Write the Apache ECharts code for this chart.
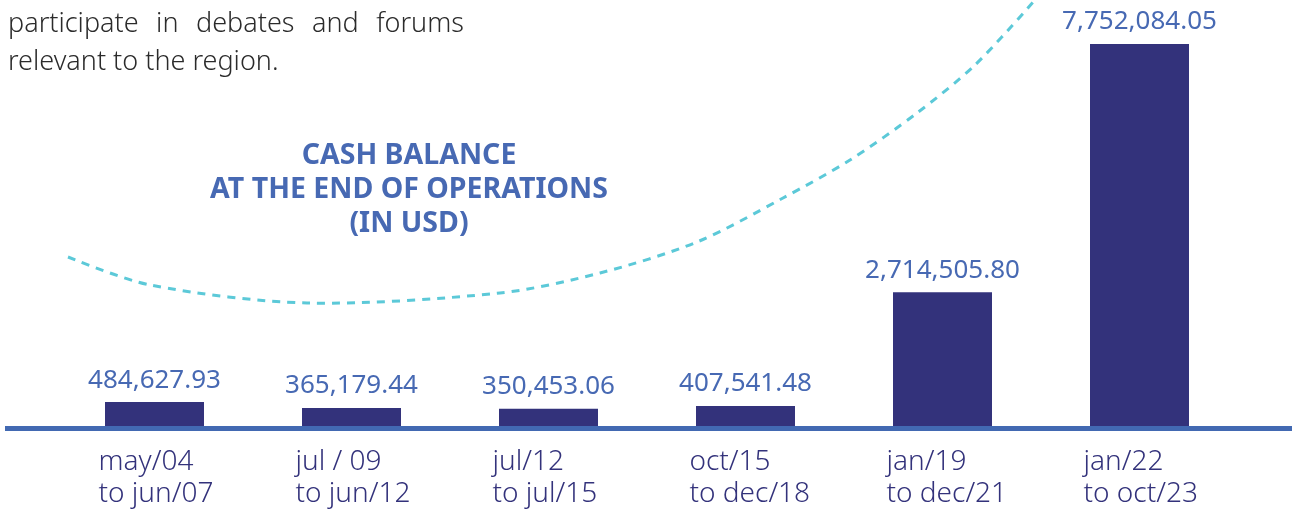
<!DOCTYPE html>
<html>
<head>
<meta charset="utf-8">
<title>Cash balance</title>
<script src="https://cdn.jsdelivr.net/npm/echarts@6/dist/echarts.min.js"></script>
<style>
  html, body { margin: 0; padding: 0; background: #ffffff; }
  #grafica { width: 1292px; height: 512px; }
</style>
</head>
<body>
<div id="grafica"></div>
<script>
// periodos (dos lineas por etiqueta)
const periods = [
  "may/04\nto jun/07",
  "jul / 09\nto jun/12",
  "jul/12\nto jul/15",
  "oct/15\nto dec/18",
  "jan/19\nto dec/21",
  "jan/22\nto oct/23",
];
// saldo de caja al final de cada periodo, en USD
const cashBalance = [
  484627.93, 365179.44, 350453.06, 407541.48, 2714505.8, 7752084.05,
];
const titleLines = ["CASH BALANCE", "AT THE END OF OPERATIONS", "(IN USD)"];
const introLine1 = ["participate", "in", "debates", "and", "forums"];
const introLine2 = "relevant to the region.";

const FONT = "Noto Sans";
const BLUE = "#4769b3";
const NAVY = "#33327b";

const fmt = (v) =>
  v.toLocaleString("en-US", { minimumFractionDigits: 2, maximumFractionDigits: 2 });

// texto justificado del parrafo (primera linea de 8 a 464 px)
const introFont = "300 27px '" + FONT + "'";
const ctx = document.createElement("canvas").getContext("2d");
ctx.font = introFont;
const wordWidths = introLine1.map((w) => ctx.measureText(w).width);
const totalW = wordWidths.reduce((a, b) => a + b, 0);
const gap = (464 - 8 - totalW) / (introLine1.length - 1);
let cursor = 8;
const introWords = introLine1.map((w, i) => {
  const el = {
    type: "text",
    x: cursor,
    y: 24,
    style: { text: w, fill: "#2b2b2b", font: introFont, textVerticalAlign: "middle" },
  };
  cursor += wordWidths[i] + gap;
  return el;
});

const option = {
  animation: false,
  title: {
    text: titleLines.join("\n"),
    left: 404,
    top: 134,
    textAlign: "center",
    textStyle: {
      color: BLUE,
      fontFamily: FONT,
      fontWeight: "bold",
      fontSize: 28.5,
      lineHeight: 34,
    },
  },
  grid: { left: 56, right: 54, top: 44, bottom: 86 },
  xAxis: {
    type: "category",
    data: periods,
    axisLine: { show: false },
    axisTick: { show: false },
    axisLabel: {
      interval: 0,
      hideOverlap: false,
      margin: 20,
      color: NAVY,
      fontFamily: FONT,
      fontSize: 28,
      lineHeight: 32,
      formatter: (v) => v.split("\n").map((s) => "{a|" + s + "}").join("\n"),
      rich: {
        a: {
          width: 112,
          align: "left",
          color: NAVY,
          fontFamily: FONT,
          fontWeight: 300,
          fontSize: 28,
          lineHeight: 32,
        },
      },
    },
  },
  yAxis: {
    type: "value",
    min: 0,
    max: "dataMax",
    show: false,
    splitLine: { show: false },
  },
  series: [
    {
      type: "bar",
      data: cashBalance,
      barWidth: 99,
      itemStyle: { color: NAVY },
      label: {
        show: true,
        position: "top",
        distance: 9,
        color: BLUE,
        fontFamily: FONT,
        fontSize: 26,
        formatter: (p) => fmt(p.value),
      },
    },
  ],
  graphic: [
    // linea base larga
    {
      type: "line",
      shape: { x1: 5, y1: 428.5, x2: 1292, y2: 428.5 },
      style: { stroke: "#4269b2", lineWidth: 5 },
      z: 10,
    },
    // curva decorativa punteada
    {
      type: "polyline",
      shape: {
        points: [
          [68, 257], [150, 285], [307, 303], [500, 293], [600, 273],
          [697, 242], [783, 198], [850, 160], [917, 113], [975, 65], [1035, 0],
        ],
        smooth: 0.3,
      },
      style: { stroke: "#5cc9d8", lineWidth: 3, lineDash: [8, 7], fill: null },
      z: -1,
    },
    ...introWords,
    {
      type: "text",
      x: 8,
      y: 62,
      style: { text: introLine2, fill: "#2b2b2b", font: introFont, textVerticalAlign: "middle" },
    },
  ],
};

const myChart = echarts.init(document.querySelector("#grafica"));
myChart.setOption(option);
</script>
</body>
</html>
